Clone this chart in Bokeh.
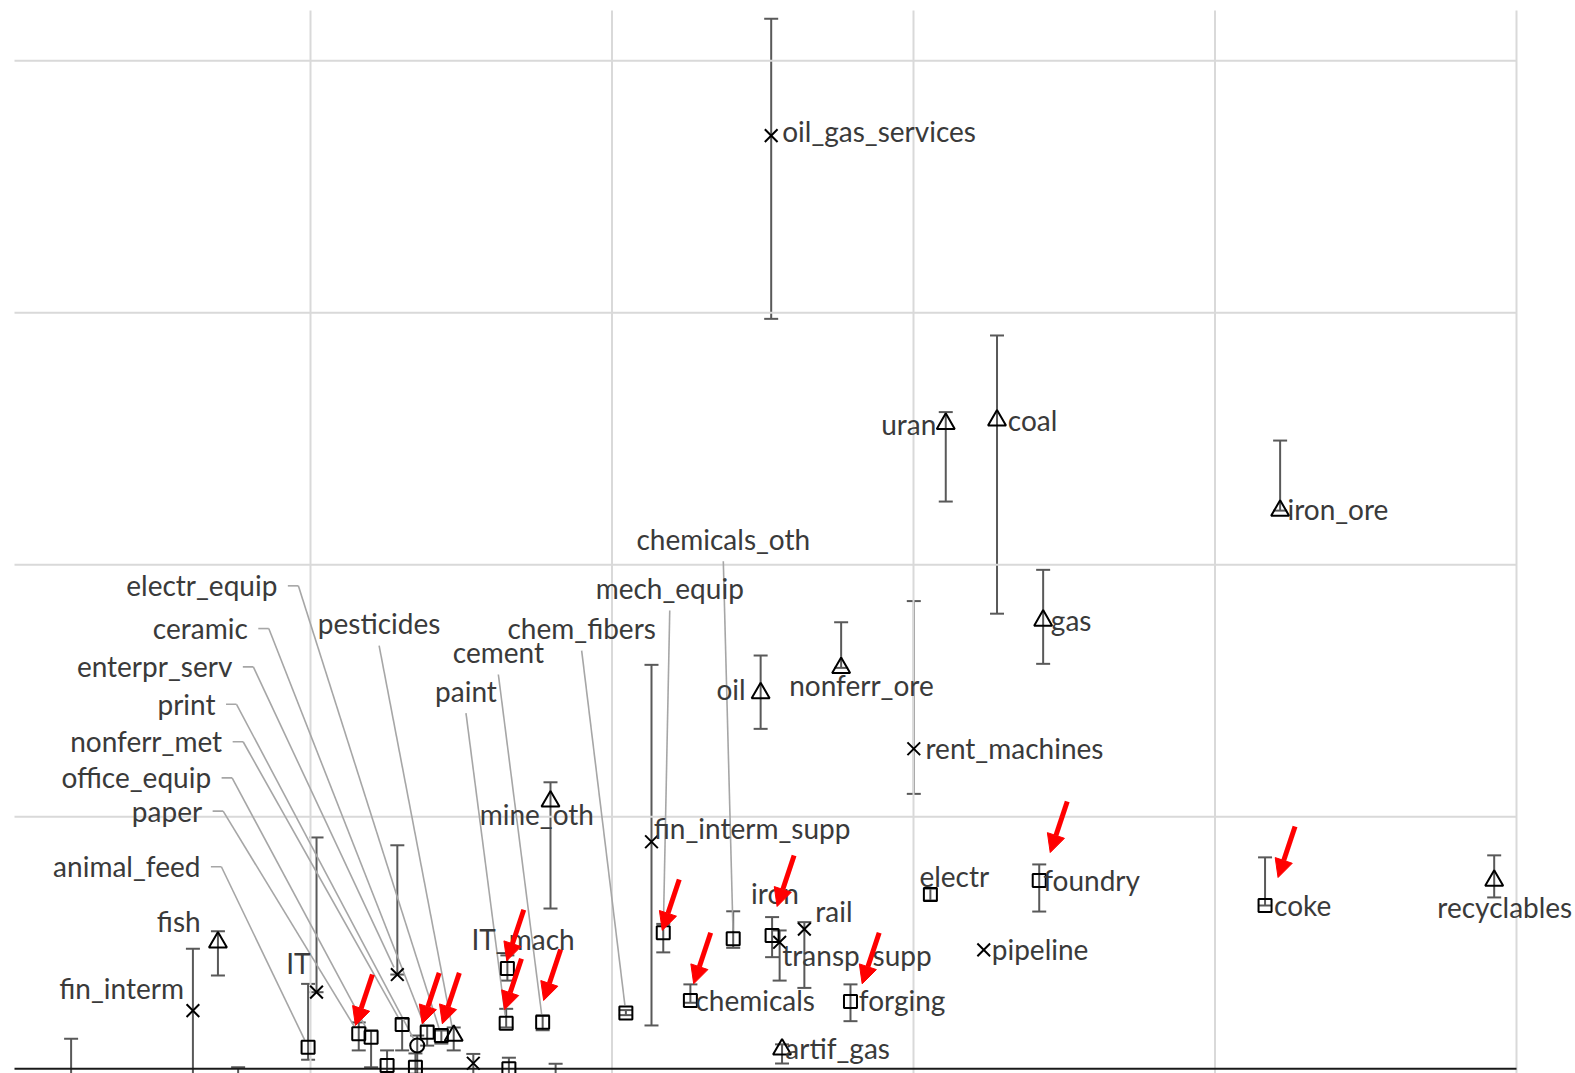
import math
from bokeh.plotting import figure
from bokeh.models import Range1d, ColumnDataSource, Whisker, TeeHead, Arrow, NormalHead
from bokeh.core.properties import value
from bokeh.embed import file_html
from bokeh.resources import INLINE

# ---------------- data ----------------
sectors = [
    "oil_gas_services", "uran", "coal", "iron_ore", "gas", "oil", "nonferr_ore", "rent_machines",
    "mine_oth", "fin_interm_supp", "electr", "foundry", "coke", "recyclables", "pipeline", "rail",
    "iron", "transp_supp", "chemicals_oth", "mech_equip", "chemicals", "forging", "artif_gas",
    "chem_fibers", "IT_mach", "paint", "cement", "fish", "fin_interm", "IT", "animal_feed",
    "paper", "office_equip", "nonferr_met", "print", "enterpr_serv", "ceramic", "electr_equip",
    "pesticides", "", "", "", "", "", "", "",
]
symbols = [
    "x", "triangle", "triangle", "triangle", "triangle", "triangle", "triangle", "x",
    "triangle", "x", "square", "square", "square", "triangle", "x", "x",
    "square", "x", "square", "square", "square", "square", "triangle",
    "square", "square", "square", "square", "triangle", "x", "x", "square",
    "square", "square", "square", "circle", "x", "square", "square",
    "triangle", "square", "square", "x", "square", "square", "square", "square",
]
x_val = [
    2.528, 3.107, 3.277, 4.216, 3.430, 2.493, 2.760, 3.001,
    1.796, 2.131, 3.056, 3.417, 4.166, 4.926, 3.233, 2.638,
    2.531, 2.556, 2.402, 2.170, 2.260, 2.791, 2.564,
    2.046, 1.653, 1.649, 1.770, 0.693, 0.610, 1.020, 0.992,
    1.160, 1.201, 1.304, 1.354, 1.288, 1.387, 1.434,
    1.475, 1.254, 1.348, 1.540, 1.658, 1.813, 0.206, 0.760,
]
y_val = [
    3.703, 2.560, 2.573, 2.215, 1.779, 1.491, 1.591, 1.270,
    1.061, 0.901, 0.692, 0.747, 0.648, 0.747, 0.472, 0.554,
    0.529, 0.502, 0.516, 0.540, 0.271, 0.267, 0.077,
    0.221, 0.398, 0.181, 0.185, 0.502, 0.231, 0.304, 0.086,
    0.139, 0.125, 0.176, 0.092, 0.374, 0.145, 0.132,
    0.132, 0.013, 0.006, 0.022, 0.000, -0.050, -0.080, -0.070,
]
y_upper = [
    4.167, 2.606, 2.910, 2.493, 1.980, 1.640, 1.772, 1.856,
    1.137, 1.603, 0.715, 0.811, 0.839, 0.847, 0.472, 0.582,
    0.602, 0.549, 0.625, 0.575, 0.335, 0.335, 0.097,
    0.233, 0.450, 0.238, 0.212, 0.546, 0.476, 0.918, 0.337,
    0.184, 0.152, 0.198, 0.132, 0.887, 0.172, 0.152,
    0.164, 0.073, 0.061, 0.059, 0.044, 0.020, 0.119, 0.006,
]
y_lower = [
    2.976, 2.251, 1.806, 2.215, 1.607, 1.349, 1.591, 1.091,
    0.636, 0.172, 0.668, 0.624, 0.648, 0.680, 0.472, 0.321,
    0.443, 0.350, 0.480, 0.462, 0.262, 0.189, 0.021,
    0.213, 0.350, 0.164, 0.153, 0.370, -0.100, 0.304, 0.036,
    0.073, 0.006, 0.073, -0.100, 0.374, 0.092, 0.100,
    0.073, -0.100, -0.100, -0.100, -0.100, -0.200, -0.200, -0.200,
]
x_grid = [1, 2, 3, 4, 5]
y_grid = [1, 2, 3, 4]
highlighted = ["paper", "ceramic", "electr_equip", "IT_mach", "paint", "cement",
               "mech_equip", "chemicals", "iron", "forging", "foundry", "coke"]

# ---------------- layout (pixel offsets) ----------------
W, H = 1575, 1073
X_START, X_END = -8.5 / 301.5, (1575 - 8.5) / 301.5
Y_START, Y_END = (1068.3 - 1073) / 252, 1068.3 / 252
SX = W / (X_END - X_START)
SY = H / (Y_END - Y_START)
TEXT_SHIFT = -2.5


def to_px(x, y):
    return (x - X_START) * SX, (Y_END - y) * SY


def to_data(px, py):
    return X_START + px / SX, Y_END - py / SY


direct_labels = {
    "oil_gas_services": (11, -2, "left"), "uran": (-9.4, 2.7, "right"),
    "coal": (10.8, 1.7, "left"), "iron_ore": (7.3, 0.7, "left"),
    "gas": (7.7, 1.7, "left"), "oil": (-15, -1.7, "right"),
    "nonferr_ore": (20.3, 19.4, "center"), "rent_machines": (11.7, 2, "left"),
    "mine_oth": (-13.7, 15, "center"), "fin_interm_supp": (2.3, -11.7, "left"),
    "electr": (-11, -16, "left"), "foundry": (4, 2, "left"), "coke": (9, 2, "left"),
    "recyclables": (10.6, 29, "center"), "pipeline": (8, 2, "left"),
    "rail": (11, -15.3, "left"), "iron": (-21, -40, "left"),
    "transp_supp": (2.7, 15.6, "left"), "chemicals": (5, 1.7, "left"),
    "forging": (8.3, 0.7, "left"), "artif_gas": (3.3, 1, "left"),
    "IT_mach": (-35.9, -26.8, "left"), "fish": (-17.3, -19, "right"),
    "fin_interm": (-9, -20, "right"), "IT": (-6, -26.7, "right"),
}
top_leader_labels = {
    "chemicals_oth": (-9.9, -397.6), "mech_equip": (6.5, -342.3),
    "chem_fibers": (-44.2, -382.5), "cement": (-44.3, -367.7),
    "paint": (-40.2, -330), "pesticides": (-74.6, -410),
}
side_leader_labels = {
    "electr_equip": (-164, -447.7), "ceramic": (-179.4, -401.7),
    "enterpr_serv": (-165, -305.7), "print": (-201.7, -339.3),
    "nonferr_met": (-180, -280.7), "office_equip": (-160, -257.4),
    "paper": (-156.6, -220.6), "animal_feed": (-107.7, -178.4),
}
arrow_tips = {
    "paper": (-3.3, -8.3), "ceramic": (-5, -8.4), "electr_equip": (1, -11.7),
    "IT_mach": (-0.6, -7.7), "paint": (-1.7, -13.4), "cement": (1, -21.7),
    "mech_equip": (-1, -2.3), "chemicals": (3.3, -16.7), "iron": (5, -29),
    "forging": (11.7, -17.7), "foundry": (11, -28), "coke": (13, -28),
}
ARROW_VEC = (-17, 51)

FONT = value("Lato")
FONT_SIZE = "28px"
TEXT_COLOR = "#3a3a3a"

# ---------------- figure ----------------
p = figure(width=W, height=H, x_range=Range1d(X_START, X_END), y_range=Range1d(Y_START, Y_END),
           output_backend="svg", toolbar_location=None, min_border=0,
           x_axis_location=None, y_axis_location=None)
p.grid.visible = False
p.outline_line_color = None
p.background_fill_color = "white"
p.border_fill_color = "white"

x_left = to_data(14, 0)[0]
y_top = to_data(0, 10)[1]
# gridlines
p.segment(x0=x_grid, x1=x_grid, y0=[-0.2] * len(x_grid), y1=[y_top] * len(x_grid),
          line_color="#D9D9D9", line_width=2)
p.segment(x0=[x_left] * len(y_grid), x1=[max(x_grid)] * len(y_grid), y0=y_grid, y1=y_grid,
          line_color="#D9D9D9", line_width=2)
# horizontal axis line at 0
p.segment(x0=[x_left], x1=[max(x_grid)], y0=[0], y1=[0], line_color="#1a1a1a", line_width=2)

idx = {n: i for i, n in enumerate(sectors) if n}

# leader lines
lx0, ly0, lx1, ly1 = [], [], [], []


def add_line(a, b):
    a_d = to_data(*a)
    b_d = to_data(*b)
    lx0.append(a_d[0]); ly0.append(a_d[1]); lx1.append(b_d[0]); ly1.append(b_d[1])


def leader_to(start, target_px, gap=8):
    dx, dy = target_px[0] - start[0], target_px[1] - start[1]
    L = math.hypot(dx, dy)
    end = (target_px[0] - dx / L * gap, target_px[1] - dy / L * gap)
    add_line(start, end)


labels = {"left": ([], [], []), "right": ([], [], []), "center": ([], [], [])}


def add_label(name, px, py, align):
    d = to_data(px, py + TEXT_SHIFT)
    labels[align][0].append(d[0]); labels[align][1].append(d[1]); labels[align][2].append(name)


for name, (dx, dy, al) in direct_labels.items():
    i = idx[name]
    px, py = to_px(x_val[i], y_val[i])
    add_label(name, px + dx, py + dy, al)

for name, (dx, dy) in top_leader_labels.items():
    i = idx[name]
    px, py = to_px(x_val[i], y_val[i])
    ax, ay = px + dx, py + dy
    add_label(name, ax, ay, "center")
    leader_to((ax, ay + 20), (px, py))

for name, (dx, dy) in side_leader_labels.items():
    i = idx[name]
    px, py = to_px(x_val[i], y_val[i])
    ax, ay = px + dx, py + dy
    add_label(name, ax, ay, "right")
    s0 = (ax + 10.5, ay - 2)
    s1 = (ax + 21, ay - 2)
    add_line(s0, s1)
    leader_to(s1, (px, py))

p.segment(x0=lx0, y0=ly0, x1=lx1, y1=ly1, line_color="#A6A6A6", line_width=1.6)

# error bars
eb = [i for i in range(len(sectors)) if not (y_upper[i] == y_val[i] == y_lower[i])]
eb_src = ColumnDataSource(dict(base=[x_val[i] for i in eb], upper=[y_upper[i] for i in eb],
                               lower=[y_lower[i] for i in eb]))
wh = Whisker(source=eb_src, base="base", upper="upper", lower="lower", dimension="height",
             line_color="#595959", line_width=2,
             upper_head=TeeHead(size=14, line_color="#595959", line_width=2),
             lower_head=TeeHead(size=14, line_color="#595959", line_width=2))
p.add_layout(wh)

# markers
size_map = {"x": 18, "triangle": 18, "square": 13, "circle": 14}
src = ColumnDataSource(dict(x=x_val, y=y_val, marker=symbols, size=[size_map[s] for s in symbols]))
p.scatter(x="x", y="y", marker="marker", size="size", source=src, fill_alpha=0,
          line_color="black", line_width=2)

# labels
for al, (xs, ys, ts) in labels.items():
    if xs:
        p.text(x=xs, y=ys, text=ts, text_align=al, text_baseline="middle", text_font=FONT,
               text_font_size=FONT_SIZE, text_color=TEXT_COLOR)

# red arrows
ax0, ay0, ax1, ay1 = [], [], [], []
for name in highlighted:
    i = idx[name]
    px, py = to_px(x_val[i], y_val[i])
    tdx, tdy = arrow_tips[name]
    tip = (px + tdx, py + tdy)
    start = (tip[0] - ARROW_VEC[0], tip[1] - ARROW_VEC[1])
    s = to_data(*start); t = to_data(*tip)
    ax0.append(s[0]); ay0.append(s[1]); ax1.append(t[0]); ay1.append(t[1])
arr_src = ColumnDataSource(dict(x0=ax0, y0=ay0, x1=ax1, y1=ay1))
p.add_layout(Arrow(source=arr_src, x_start="x0", y_start="y0", x_end="x1", y_end="y1",
                   line_color="#FF0000", line_width=5,
                   end=NormalHead(size=18, fill_color="#FF0000", line_color="#FF0000", line_width=1)))

open("out.html", "w").write(file_html(p, INLINE))
